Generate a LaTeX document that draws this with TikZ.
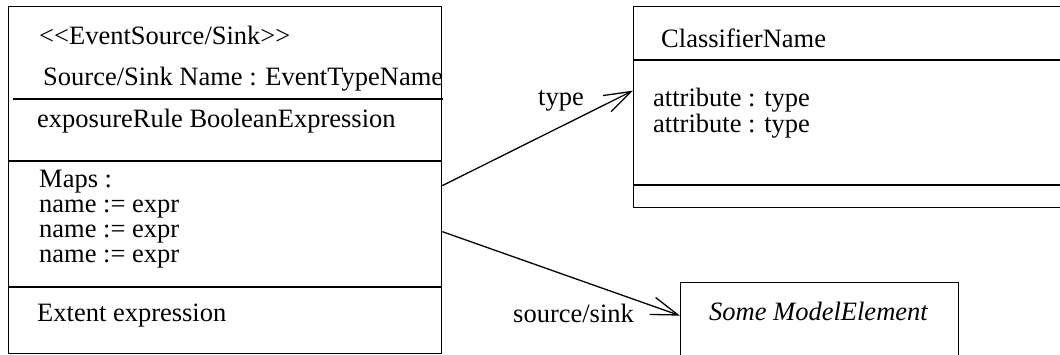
\documentclass[tikz,border=0pt]{standalone}
\usepackage{fontspec}
\setmainfont{Liberation Serif}
\usetikzlibrary{arrows.meta}
\tikzset{
  umlbox/.style={draw, line width=1.3pt, inner sep=0pt, anchor=north west},
  rule/.style={line width=1.3pt},
  txt/.style={anchor=base west, inner sep=0pt, font=\fontsize{26.5}{30}\selectfont},
  assoc/.style={line width=1.3pt, -{Straight Barb[length=27pt, width=18pt, line width=1.3pt]}},
}
\begin{document}
\begin{tikzpicture}[x=1pt, y=-1pt]
\useasboundingbox (0,0) rectangle (1060,355);
\clip (0,0) rectangle (1060,355);

% event source / sink class
\node[umlbox, minimum width=433pt, minimum height=347pt] (es) at (8,6) {};
\draw[rule] (12.7,99) -- (443.3,99);
\draw[rule] (8,161) -- (441,161);
\draw[rule] (8,287) -- (441,287);
\node[txt] (stereo) at (39,45) {<\kern0pt<EventSource/Sink>\kern0pt>};
\node[txt] (esname) at (43,86) {Source/Sink Name : EventTypeName};
\node[txt] (rule1) at (37,128) {exposureRule BooleanExpression};
\node[txt] (maps) at (39,188) {Maps :};
\node[txt] (map1) at (39,213) {name := expr};
\node[txt] (map2) at (39,238) {name := expr};
\node[txt] (map3) at (39,263) {name := expr};
\node[txt] (extent) at (37,322) {Extent expression};

% classifier
\node[umlbox, minimum width=447pt, minimum height=201pt] (cls) at (633,6) {};
\draw[rule] (633,60) -- (1080,60);
\draw[rule] (633,185) -- (1080,185);
\node[txt] (clsname) at (661,48) {ClassifierName};
\node[txt] (attr1) at (653,107) {attribute : type};
\node[txt] (attr2) at (653,133) {attribute : type};

% model element
\node[umlbox, minimum width=278pt, minimum height=98pt] (me) at (680,282) {};
\node[txt] (mename) at (709,320) {\itshape Some ModelElement};

% associations
\draw[assoc] ([yshift=-5.5pt]es.east) -- ([yshift=16.5pt]cls.west);
\draw[assoc] ([yshift=-51.5pt]es.east) -- ([yshift=16pt]me.west);
\node[txt] (typelbl) at (538,106) {type};
\node[txt] (srclbl) at (513,323) {source/sink};
\end{tikzpicture}
\end{document}
